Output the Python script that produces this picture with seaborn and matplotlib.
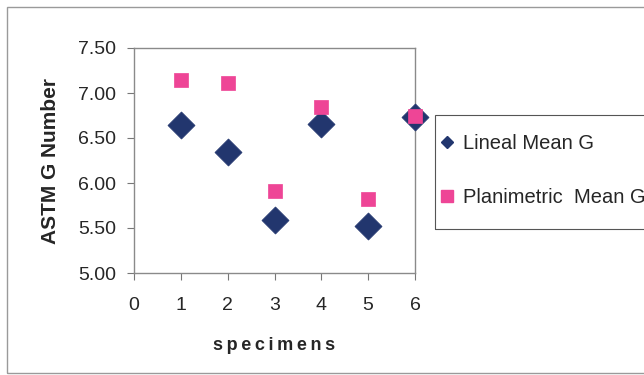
import matplotlib
matplotlib.use("Agg")
import matplotlib.pyplot as plt
import seaborn as sns
import pandas as pd
from matplotlib.lines import Line2D
from matplotlib.patches import Rectangle

specimens = [1, 2, 3, 4, 5, 6]
lineal = [6.64, 6.35, 5.59, 6.66, 5.52, 6.73]
planimetric = [7.14, 7.11, 5.91, 6.84, 5.82, 6.74]
series_names = ["Lineal Mean G", "Planimetric  Mean G"]
yticks = [5.00, 5.50, 6.00, 6.50, 7.00, 7.50]
xticks = [0, 1, 2, 3, 4, 5, 6]

sns.set_theme(style="white")
plt.rcParams['font.family'] = ['Liberation Sans', 'DejaVu Sans']

navy = "#22366e"
pink = "#ee4596"

df_l = pd.DataFrame({"x": specimens, "y": lineal})
df_p = pd.DataFrame({"x": specimens, "y": planimetric})

fig = plt.figure(figsize=(6.44, 3.75), dpi=100)
ax = fig.add_axes([134/644, 1-273/375, (415-134)/644, (273-48)/375])

sns.scatterplot(data=df_l, x="x", y="y", ax=ax, marker="D", s=190,
                color=navy, edgecolor=navy, linewidth=0.5, legend=False,
                zorder=3, clip_on=False)
sns.scatterplot(data=df_p, x="x", y="y", ax=ax, marker="s", s=90,
                color=pink, edgecolor=pink, linewidth=0.5, legend=False,
                zorder=4, clip_on=False)

ax.set_xlim(0, 6)
ax.set_ylim(5.0, 7.5)
ax.set_xticks(xticks)
ax.set_xticklabels([str(t) for t in xticks], fontsize=14)
ax.set_yticks(yticks)
ax.set_yticklabels([f"{t:.2f}" for t in yticks], fontsize=14)
ax.tick_params(axis="both", direction="out", length=5, width=0.8, color="#777777",
               bottom=True, left=True, pad=8)
ax.tick_params(axis="x", pad=12)
for sp in ax.spines.values():
    sp.set_color("#8a8a8a")
    sp.set_linewidth(1.0)

ax.set_xlabel("s\u2009p\u2009e\u2009c\u2009i\u2009m\u2009e\u2009n\u2009s", fontsize=13,
              fontweight="bold", labelpad=17)
ax.set_ylabel("ASTM G Number", fontsize=15, fontweight="bold", labelpad=13)

# legend frame (extends past the right edge, as in the reference)
fig.patches.append(Rectangle((435/644, 1-229/375), 300/644, 114/375,
                             transform=fig.transFigure, fill=False,
                             edgecolor="#555555", linewidth=0.8))

handles = [
    Line2D([], [], marker="D", linestyle="none", color=navy, markersize=6.6),
    Line2D([], [], marker="s", linestyle="none", color=pink, markersize=8.6),
]
leg = fig.legend(handles, series_names, loc="upper left",
                 bbox_to_anchor=(440/644, 1-134/375), bbox_transform=fig.transFigure,
                 frameon=False, fontsize=14.5, labelspacing=1.75,
                 handlelength=0.7, handletextpad=0.45, borderpad=0, borderaxespad=0)

fig.patches.append(Rectangle((7/644, 2/375), 1.2, 366/375, transform=fig.transFigure,
                             fill=False, edgecolor="#9a9a9a", linewidth=1.0))

fig.savefig("out.png", dpi=100)
